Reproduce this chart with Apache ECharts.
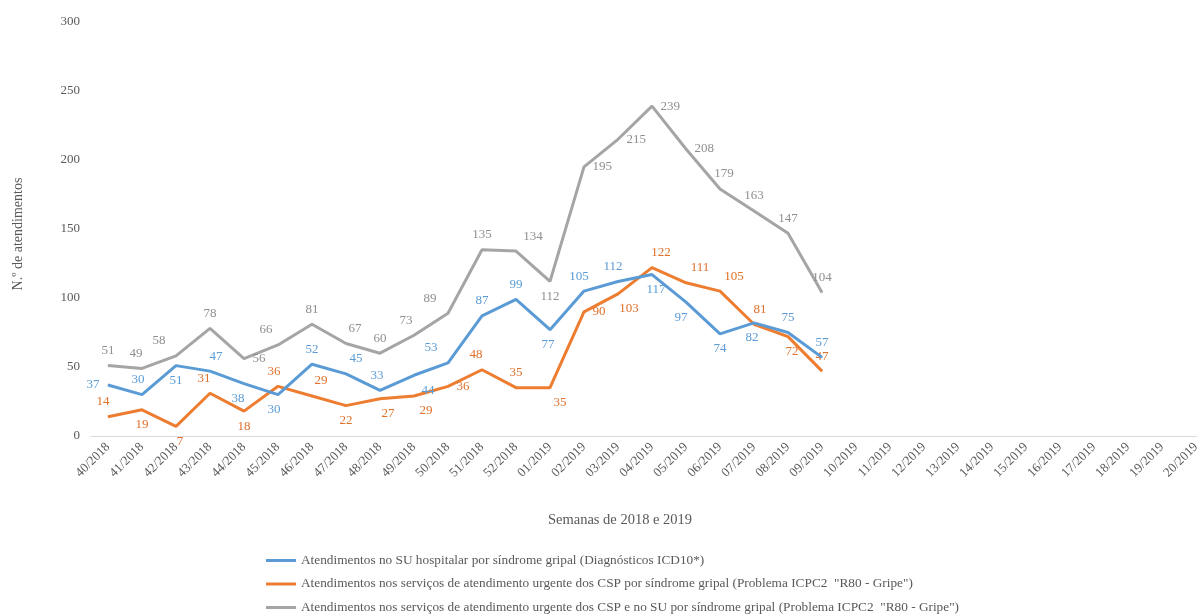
<!DOCTYPE html>
<html>
<head>
<meta charset="utf-8">
<script src="https://cdn.jsdelivr.net/npm/echarts@6/dist/echarts.min.js"></script>
<style>html,body{margin:0;padding:0;background:#fff}#c{width:1197px;height:614px}</style>
</head>
<body>
<div id="c"></div>
<script>
var categories = ['40/2018','41/2018','42/2018','43/2018','44/2018','45/2018','46/2018','47/2018','48/2018','49/2018','50/2018','51/2018','52/2018','01/2019','02/2019','03/2019','04/2019','05/2019','06/2019','07/2019','08/2019','09/2019','10/2019','11/2019','12/2019','13/2019','14/2019','15/2019','16/2019','17/2019','18/2019','19/2019','20/2019'];
var seriesNames = [
  'Atendimentos no SU hospitalar por síndrome gripal (Diagnósticos ICD10*)',
  'Atendimentos nos serviços de atendimento urgente dos CSP por síndrome gripal (Problema ICPC2  "R80 - Gripe")',
  'Atendimentos nos serviços de atendimento urgente dos CSP e no SU por síndrome gripal (Problema ICPC2  "R80 - Gripe")'
];
var suHospitalar = [37,30,51,47,38,30,52,45,33,44,53,87,99,77,105,112,117,97,74,82,75,57];
var cspUrgente = [14,19,7,31,18,36,29,22,27,29,36,48,35,35,90,103,122,111,105,81,72,47];
var cspESu = [51,49,58,78,56,66,81,67,60,73,89,135,134,112,195,215,239,208,179,163,147,104];

// label placement (style only)
var posBlue = ['left','top','bottom','top','bottom','bottom','top','top','top','bottom','top','top','top','bottom','top','top','bottom','bottom','bottom','bottom','top','top'];
var posOrange = ['top','bottom','bottom','top','bottom','top','top','bottom','bottom','bottom','right','top','top','bottom','right','bottom','top','top','top','top','bottom','top'];
var posGray = ['top','top','top','top','right','top','top','top','top','top','top','top','top','bottom','right','right','right','right','top','top','top','top'];
var dxOrange = [-5,0,4,-6,0,-4,9,0,8,12,0,-6,0,10,0,11,9,14,14,6,4,0];
var dxGray = [0,-6,-17,0,0,-12,0,9,0,-8,-18,0,17,0,0,0,0,0,4,0,0,0];
var dxBlue = [0,-4,0,6,-6,-4,0,10,-3,14,-17,0,0,-2,-5,-5,4,-5,0,-2,0,0];

var colors = ['#5B9BD5','#ED7D31','#A5A5A5'];
var labelColors = ['#5B9BD5','#E0702A','#8F8F8F'];
var FONT = '"Liberation Serif", "Times New Roman", serif';

function build(vals, pos, dx) {
  return vals.map(function (v, i) {
    return { value: v, label: { position: pos[i], offset: [dx[i], 0] } };
  });
}

function mkSeries(name, vals, pos, dx, ci) {
  return {
    name: name,
    type: 'line',
    data: build(vals, pos, dx),
    symbol: 'circle',
    symbolSize: 1,
    showSymbol: true,
    lineStyle: { color: colors[ci], width: 3 },
    itemStyle: { color: colors[ci] },
    label: { show: true, color: labelColors[ci], fontFamily: FONT, fontSize: 13, distance: 8 },
    animation: false,
    z: 3 - ci
  };
}

function mkLegend(i, top) {
  return {
    orient: 'vertical',
    left: 266,
    top: top,
    padding: 0,
    itemWidth: 30,
    itemHeight: 3,
    itemGap: 0,
    icon: 'rect',
    textStyle: { fontFamily: FONT, fontSize: 13.3, color: '#595959' },
    data: [seriesNames[i]]
  };
}

var chart = echarts.init(document.getElementById('c'));
chart.setOption({
  animation: false,
  grid: { left: 91, top: 22, width: 1122, height: 414, outerBoundsMode: 'none', containLabel: false },
  legend: [mkLegend(0, 554), mkLegend(1, 577.5), mkLegend(2, 601)],
  xAxis: {
    type: 'category',
    data: categories,
    boundaryGap: true,
    axisLine: { lineStyle: { color: '#D9D9D9', width: 1 } },
    axisTick: { show: false },
    axisLabel: { rotate: 45, interval: 0, fontFamily: FONT, fontSize: 13, color: '#595959', margin: 9 }
  },
  yAxis: {
    type: 'value',
    min: 0,
    max: 300,
    interval: 50,
    axisLine: { show: false },
    axisTick: { show: false },
    splitLine: { show: false },
    axisLabel: { fontFamily: FONT, fontSize: 13, color: '#595959', margin: 11 }
  },
  graphic: [
    { type: 'text', x: 620, y: 520, style: { text: 'Semanas de 2018 e 2019', font: '14.5px ' + FONT, fill: '#595959', textAlign: 'center', textVerticalAlign: 'middle' } },
    { type: 'text', x: 18, y: 234, rotation: Math.PI / 2, style: { text: 'N.º de atendimentos', font: '14px ' + FONT, fill: '#595959', textAlign: 'center', textVerticalAlign: 'middle' } }
  ],
  series: [
    mkSeries(seriesNames[0], suHospitalar, posBlue, dxBlue, 0),
    mkSeries(seriesNames[1], cspUrgente, posOrange, dxOrange, 1),
    mkSeries(seriesNames[2], cspESu, posGray, dxGray, 2)
  ]
});
</script>
</body>
</html>
